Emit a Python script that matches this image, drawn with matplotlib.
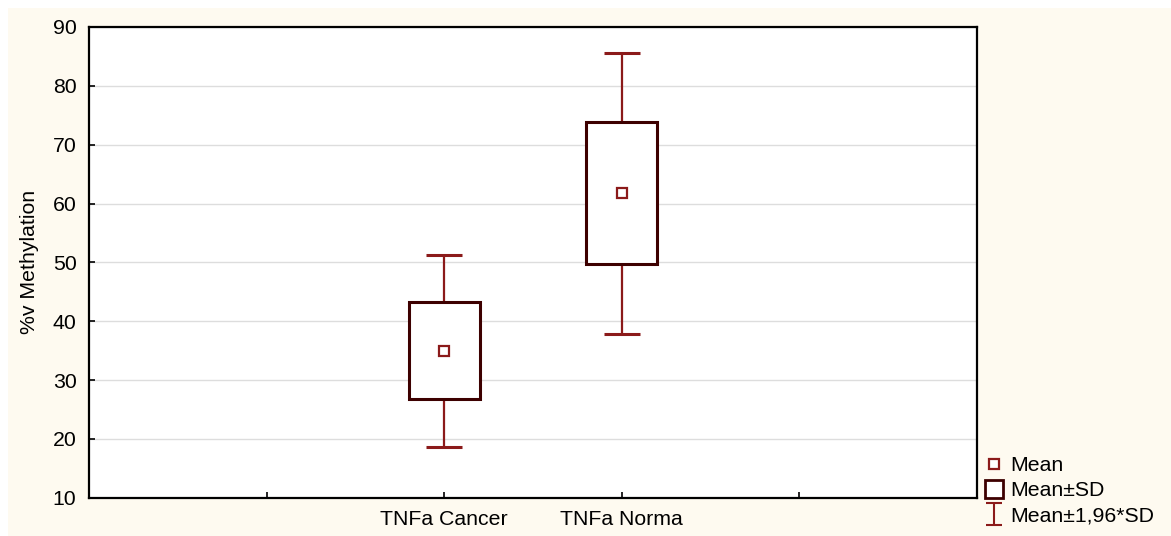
import numpy as np
import matplotlib
matplotlib.use("Agg")
import matplotlib.pyplot as plt
from matplotlib.lines import Line2D
from matplotlib.patches import Rectangle
from matplotlib.path import Path

plt.rcParams["font.family"] = ["Liberation Sans", "DejaVu Sans"]

# -------------------------------------------------------------------
# DATA
# -------------------------------------------------------------------
categories = ["TNFa Cancer", "TNFa Norma"]
cat_pos = [2, 3]
means = [35.0, 61.8]
sd_low = [26.8, 49.7]
sd_high = [43.2, 73.8]
ci_low = [18.7, 37.9]
ci_high = [51.3, 85.6]

y_ticks = [10, 20, 30, 40, 50, 60, 70, 80, 90]
x_ticks = [1, 2, 3, 4]
x_tick_labels = ["", "TNFa Cancer", "TNFa Norma", ""]

BOX_EDGE = "#3d0000"
WHISK = "#8b1a1a"
CREAM = "#fefaf0"
FS = 15.3

# -------------------------------------------------------------------
# FIGURE
# -------------------------------------------------------------------
fig = plt.figure(figsize=(11.71, 5.36), dpi=100)
fig.patch.set_facecolor("white")
fig.patches.append(Rectangle((8 / 1171, 0), 1, 1 - 8 / 536,
                             transform=fig.transFigure, facecolor=CREAM,
                             edgecolor="none", zorder=-10))

ax = fig.add_axes([89 / 1171, 1 - 497.7 / 536, (977 - 89) / 1171,
                   (497.7 - 27) / 536])
ax.set_facecolor("white")

means = np.array(means)
yerr = [means - np.array(ci_low), np.array(ci_high) - means]
ax.errorbar(cat_pos, means, yerr=yerr, fmt="none", ecolor=WHISK,
            elinewidth=1.6, capsize=13, capthick=2.2, zorder=2)

heights = np.array(sd_high) - np.array(sd_low)
ax.bar(cat_pos, heights, bottom=sd_low, width=0.4, facecolor="white",
       edgecolor=BOX_EDGE, linewidth=2.2, zorder=3)

ax.plot(cat_pos, means, ls="none", marker="s", ms=7, mfc="white",
        mec=WHISK, mew=1.6, zorder=4)

ax.set_xlim(0, 5)
ax.set_ylim(10, 90)
ax.set_yticks(y_ticks)
ax.set_xticks(x_ticks)
ax.set_xticklabels(x_tick_labels)
ax.yaxis.grid(True, color="#dddddd", lw=1)
ax.set_axisbelow(True)
ax.tick_params(direction="in", length=4, width=1.2, labelsize=FS,
               colors="black")
ax.tick_params(axis="y", pad=9)
ax.tick_params(axis="x", pad=9)
for s in ax.spines.values():
    s.set_linewidth(1.6)
    s.set_color("black")
ax.set_ylabel("%v Methylation", fontsize=FS, labelpad=10)

# -------------------------------------------------------------------
# LEGEND
# -------------------------------------------------------------------
ibar = Path([(-0.7, -1), (0.7, -1), (0, -1), (0, 1), (-0.7, 1), (0.7, 1)],
            [Path.MOVETO, Path.LINETO, Path.MOVETO, Path.LINETO,
             Path.MOVETO, Path.LINETO])
handles = [
    Line2D([], [], ls="none", marker="s", ms=7, mfc="white", mec=WHISK,
           mew=1.6),
    Line2D([], [], ls="none", marker="s", ms=12.5, mfc="white", mec=BOX_EDGE,
           mew=2.0),
    Line2D([], [], ls="none", marker=ibar, ms=16, mfc="none", mec=WHISK,
           mew=1.5),
]
fig.legend(handles, ["Mean", "Mean\u00b1SD", "Mean\u00b11,96*SD"],
           loc="upper left", bbox_to_anchor=(983 / 1171, 1 - 456 / 536),
           frameon=False, fontsize=FS, handlelength=1.0,
           handletextpad=0.3, labelspacing=0.3, borderpad=0,
           borderaxespad=0)

fig.savefig("out.png", dpi=100, facecolor=fig.get_facecolor())
